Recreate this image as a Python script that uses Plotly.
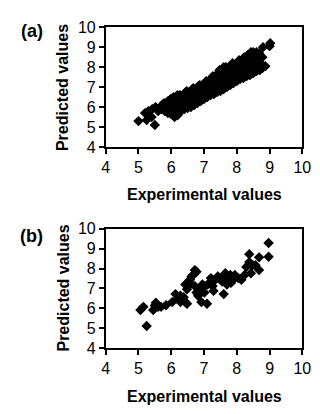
import plotly.graph_objects as go

# Panel (a) data (read column by column from the dense cloud)
exp_a = [5.0, 5.2, 5.25, 5.3, 5.4, 5.42, 5.5, 5.52, 5.6, 5.7, 5.72,
         5.8, 5.82, 5.78,
         5.9, 5.92, 5.88, 5.9,
         6.0, 5.97, 6.03, 6.0, 5.98,
         6.1, 6.12, 6.08, 6.1, 6.13, 6.07,
         6.2, 6.22, 6.18, 6.2, 6.23, 6.19,
         6.3, 6.28, 6.32, 6.3, 6.27,
         6.4, 6.42, 6.38, 6.4, 6.43,
         6.5, 6.48, 6.52, 6.5, 6.47,
         6.6, 6.62, 6.58, 6.6, 6.63,
         6.7, 6.68, 6.72, 6.7, 6.67,
         6.8, 6.82, 6.78, 6.8, 6.83,
         6.9, 6.88, 6.92, 6.9, 6.87,
         7.0, 7.02, 6.98, 7.0, 7.03,
         7.1, 7.08, 7.12, 7.1, 7.07,
         7.2, 7.22, 7.18, 7.2, 7.23,
         7.3, 7.28, 7.32, 7.3, 7.27,
         7.4, 7.42, 7.38, 7.4, 7.43,
         7.5, 7.48, 7.52, 7.5, 7.47,
         7.6, 7.62, 7.58, 7.6, 7.6,
         7.7, 7.68, 7.72, 7.7, 7.67,
         7.8, 7.82, 7.78, 7.8, 7.83,
         7.9, 7.88, 7.92, 7.9, 7.87,
         8.0, 8.02, 7.98, 8.0, 8.03,
         8.1, 8.08, 8.12, 8.1, 8.07,
         8.2, 8.22, 8.18, 8.2, 8.23,
         8.3, 8.28, 8.32, 8.3, 8.33,
         8.4, 8.42, 8.38, 8.4, 8.43,
         8.5, 8.52, 8.48, 8.5,
         8.6, 8.62, 8.58, 8.6,
         8.7, 8.72, 8.68,
         8.78, 8.8, 8.78,
         8.87,
         9.0, 9.02]
pred_a = [5.3, 5.7, 5.35, 5.8, 5.5, 5.9, 5.1, 6.0, 5.8, 5.9, 6.1,
          5.8, 6.0, 6.2,
          5.7, 5.9, 6.1, 6.3,
          5.65, 5.85, 6.05, 6.25, 6.4,
          5.5, 5.7, 5.9, 6.1, 6.3, 6.5,
          5.6, 5.8, 6.0, 6.2, 6.4, 6.6,
          5.8, 6.0, 6.2, 6.4, 6.6,
          5.9, 6.1, 6.3, 6.5, 6.7,
          5.95, 6.15, 6.35, 6.55, 6.8,
          6.0, 6.2, 6.4, 6.6, 6.85,
          6.1, 6.3, 6.5, 6.7, 6.95,
          6.2, 6.4, 6.6, 6.8, 7.05,
          6.3, 6.5, 6.7, 6.9, 7.1,
          6.4, 6.6, 6.8, 7.0, 7.2,
          6.5, 6.7, 6.9, 7.1, 7.3,
          6.6, 6.8, 7.0, 7.2, 7.45,
          6.65, 6.9, 7.1, 7.3, 7.55,
          6.75, 7.0, 7.2, 7.4, 7.7,
          6.8, 7.05, 7.3, 7.55, 7.85,
          6.9, 7.15, 7.4, 7.65, 8.0,
          7.0, 7.25, 7.5, 7.75, 8.0,
          7.1, 7.35, 7.6, 7.85, 8.1,
          7.2, 7.45, 7.7, 7.95, 8.2,
          7.3, 7.55, 7.8, 8.05, 8.25,
          7.4, 7.65, 7.9, 8.15, 8.35,
          7.45, 7.7, 7.95, 8.2, 8.5,
          7.55, 7.8, 8.05, 8.3, 8.6,
          7.6, 7.9, 8.15, 8.45, 8.75,
          7.7, 8.0, 8.3, 8.75,
          7.8, 8.1, 8.45, 8.75,
          7.85, 8.2, 8.7,
          8.5, 9.0, 7.95,
          8.05,
          9.05, 9.2]

# Panel (b) data
exp_b = [5.06, 5.15, 5.25, 5.45, 5.53, 5.6, 5.69, 5.84, 6.03, 6.13,
         6.18, 6.28, 6.28, 6.38, 6.43, 6.48, 6.43, 6.48, 6.52, 6.57,
         6.62, 6.67, 6.72, 6.77, 6.72, 6.77, 6.84, 6.9, 6.82, 6.92,
         7.01, 7.01, 7.09, 7.11, 7.21, 7.26, 7.29, 7.42, 7.5, 7.6,
         7.6, 7.65, 7.7, 7.7, 7.8, 7.82, 7.89, 7.94, 8.04, 8.14,
         8.24, 8.29, 8.38, 8.43, 8.48, 8.38, 8.57, 8.68, 8.68, 8.97,
         8.97, 7.35, 7.55, 7.75, 7.85, 6.95, 5.5, 6.55]
pred_b = [5.92, 6.08, 5.12, 5.92, 6.29, 6.08, 6.08, 6.16, 6.32, 6.72,
          6.48, 6.64, 6.32, 6.56, 6.32, 6.24, 7.2, 6.96, 7.12, 7.44,
          7.6, 7.68, 7.92, 7.84, 7.12, 6.8, 6.93, 7.04, 6.64, 6.32,
          7.12, 6.8, 6.24, 7.2, 7.52, 7.12, 6.88, 7.6, 7.52, 6.72,
          7.6, 7.76, 7.52, 7.2, 7.68, 7.28, 7.44, 7.68, 7.52, 7.44,
          7.68, 8.08, 8.32, 7.76, 8.16, 8.72, 8.16, 8.56, 7.92, 9.28,
          8.59, 7.45, 7.35, 7.4, 7.55, 7.2, 6.15, 7.3]

tick_vals = [4, 5, 6, 7, 8, 9, 10]
panel_labels = ["(a)", "(b)"]
x_title = "Experimental values"
y_title = "Predicted values"

FONT = "Arial, 'Liberation Sans', sans-serif"
W, H = 320, 414

marker = dict(symbol="diamond", size=8, color="black", line=dict(width=0))

fig = go.Figure()
fig.add_trace(go.Scatter(x=exp_a, y=pred_a, mode="markers", marker=marker,
                         xaxis="x", yaxis="y", showlegend=False))
fig.add_trace(go.Scatter(x=exp_b, y=pred_b, mode="markers", marker=marker,
                         xaxis="x2", yaxis="y2", showlegend=False))

axis_common = dict(range=[4, 10], tickvals=tick_vals, ticks="outside", ticklen=5,
                   tickwidth=1.5, tickcolor="black", showline=True, linecolor="black",
                   linewidth=1.5, mirror=True, showgrid=False, zeroline=False,
                   tickfont=dict(family=FONT, size=16, color="black"))

xdom = [106 / W, 311 / W]
fig.update_layout(
    width=W, height=H,
    margin=dict(l=0, r=0, t=0, b=0),
    paper_bgcolor="white", plot_bgcolor="white",
    xaxis=dict(domain=xdom, anchor="y", **axis_common),
    yaxis=dict(domain=[1 - 145 / H, 1 - 20 / H], anchor="x", **axis_common),
    xaxis2=dict(domain=xdom, anchor="y2", **axis_common),
    yaxis2=dict(domain=[1 - 355 / H, 1 - 230 / H], anchor="x2", **axis_common),
)

annots = []
for lab, (ly, cy, xy) in zip(panel_labels, [(24, 83, 195), (238, 292, 405)]):
    annots.append(dict(text="<b>%s</b>" % lab, x=29 / W, y=1 - ly / H, xref="paper", yref="paper",
                       showarrow=False, font=dict(family=FONT, size=18, color="black"),
                       xanchor="center", yanchor="middle"))
    annots.append(dict(text="<b>%s</b>" % y_title, x=61 / W, y=1 - cy / H, xref="paper", yref="paper",
                       showarrow=False, textangle=-90, font=dict(family=FONT, size=16, color="black"),
                       xanchor="center", yanchor="middle"))
    annots.append(dict(text="<b>%s</b>" % x_title, x=209 / W, y=1 - xy / H, xref="paper", yref="paper",
                       showarrow=False, font=dict(family=FONT, size=16, color="black"),
                       xanchor="center", yanchor="middle"))
fig.update_layout(annotations=annots)

fig.write_html("out.html")
